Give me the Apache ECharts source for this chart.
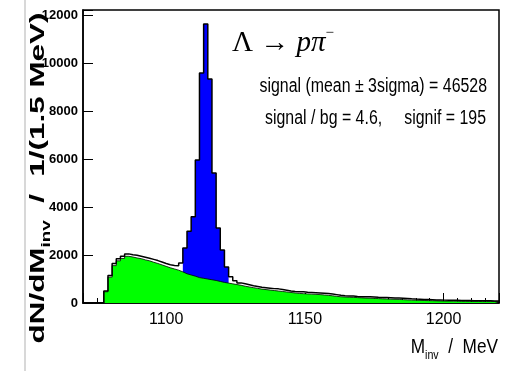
<!DOCTYPE html>
<html><head><meta charset="utf-8">
<script src="https://cdn.jsdelivr.net/npm/echarts@6/dist/echarts.min.js"></script>
<style>html,body{margin:0;padding:0;background:#fff}#c{width:513px;height:371px}</style>
</head><body><div id="c"></div>
<script>
// histogram binning (MeV)
const binLow = 1070, binWidth = 1.5;
// total invariant-mass counts per 1.5 MeV bin (100 bins, 1070-1220 MeV)
const totalCounts = [
  0, 0, 0, 0, 0, 500, 1150, 1650, 1850, 1950,
  2050, 2010, 1990, 1950, 1910, 1870, 1820, 1770, 1710, 1650,
  1600, 1570, 1550, 1670, 2300, 3000, 3600, 5970, 9600, 11650,
  9350, 5430, 3130, 2210, 1500, 1100, 930, 840, 800, 760,
  720, 690, 660, 640, 620, 600, 590, 560, 530, 500,
  480, 470, 470, 450, 440, 430, 420, 410, 400, 380,
  350, 320, 300, 290, 290, 275, 265, 260, 265, 255,
  240, 230, 230, 220, 210, 205, 200, 190, 175, 165,
  160, 150, 150, 140, 130, 125, 120, 115, 110, 110,
  105, 100, 100, 95, 95, 90, 90, 90, 85, 85
];
// background (green) counts per bin
const bgCounts = [
  0, 0, 0, 0, 0, 470, 1080, 1560, 1760, 1860,
  1950, 1920, 1880, 1850, 1800, 1760, 1700, 1650, 1590, 1530,
  1470, 1420, 1370, 1300, 1220, 1170, 1120, 1060, 1030, 1000,
  970, 940, 900, 860, 830, 800, 770, 740, 700, 670,
  640, 610, 580, 560, 540, 520, 500, 480, 460, 440,
  420, 400, 390, 380, 370, 360, 350, 335, 320, 300,
  280, 260, 250, 240, 235, 225, 215, 205, 200, 195,
  185, 175, 170, 160, 155, 150, 140, 130, 120, 115,
  110, 105, 100, 95, 90, 85, 80, 80, 75, 75,
  70, 70, 65, 65, 65, 60, 60, 60, 60, 60
];
// signal window (mean +- 3 sigma), bin indices
const signalFirstBin = 24, signalLastBin = 34;
const xTickLabels = [1100, 1150, 1200];
const yTickLabels = [0, 2000, 4000, 6000, 8000, 10000, 12000];

function histPoints(vals, first, last) {
  const pts = [];
  for (let i = first; i <= last; i++) {
    pts.push([binLow + i * binWidth, vals[i]]);
    pts.push([binLow + (i + 1) * binWidth, vals[i]]);
  }
  return pts;
}
const totalPts = histPoints(totalCounts, 0, totalCounts.length - 1);
const bgPts = histPoints(bgCounts, 0, bgCounts.length - 1);
const sigPts = histPoints(totalCounts, signalFirstBin, signalLastBin);

const sans = "'Liberation Sans', Arial, sans-serif";
const serif = "'Liberation Serif', 'Times New Roman', serif";
const chart = echarts.init(document.getElementById('c'), null, {renderer: 'canvas'});
chart.setOption({
  animation: false,
  backgroundColor: '#fff',
  grid: {left: 83, right: 14, top: 10, bottom: 68, show: true, borderColor: '#000', borderWidth: 1.5},
  xAxis: {
    type: 'value', min: 1070, max: 1220, minInterval: 50, maxInterval: 50,
    axisLine: {lineStyle: {color: '#000', width: 1.5}},
    axisTick: {inside: true, length: 10, lineStyle: {color: '#000', width: 1}},
    minorTick: {show: true, splitNumber: 10, length: 5, lineStyle: {color: '#000', width: 1}},
    splitLine: {show: false},
    axisLabel: {
      color: '#000', fontFamily: sans, fontSize: 16, margin: 9,
      formatter: v => xTickLabels.indexOf(v) >= 0 ? String(v) : ''
    }
  },
  yAxis: {
    type: 'value', min: 0, max: 12230, minInterval: 2000, maxInterval: 2000,
    axisLine: {show: true, lineStyle: {color: '#000', width: 1.5}},
    axisTick: {show: true, inside: true, length: 10, lineStyle: {color: '#000', width: 1}},
    splitLine: {show: false},
    axisLabel: {
      color: '#000', fontFamily: sans, fontSize: 13, fontWeight: 'bold', margin: 5,
      formatter: v => yTickLabels.indexOf(v) >= 0 ? String(v) : ''
    }
  },
  series: [
    {type: 'line', data: sigPts, symbol: 'none', z: 2, silent: true,
     lineStyle: {width: 0}, areaStyle: {color: '#0000ff', opacity: 1}},
    {type: 'line', data: bgPts, symbol: 'none', z: 3, silent: true,
     lineStyle: {color: '#000', width: 0.8}, areaStyle: {color: '#00ff00', opacity: 1}},
    {type: 'line', data: totalPts, symbol: 'none', z: 4, silent: true,
     lineStyle: {color: '#000', width: 1.5}}
  ],
  graphic: [
    {type: 'line', shape: {x1: 25, y1: 0, x2: 25, y2: 371}, style: {stroke: '#d8d8d8', lineWidth: 2}},
    {type: 'text', x: 38, y: 178, rotation: Math.PI / 2, scaleX: 1.57,
     style: {
       text: '{a|dN/dM}{s|inv}{a|  /  1/(1.5 MeV)}',
       align: 'center', verticalAlign: 'middle',
       rich: {
         a: {fontFamily: sans, fontWeight: 'bold', fontSize: 20, lineHeight: 30, fill: '#000'},
         s: {fontFamily: sans, fontWeight: 'bold', fontSize: 12, lineHeight: 13, verticalAlign: 'bottom', fill: '#000'}
       }
     }},
    {type: 'text', x: 498, y: 347, scaleX: 0.82,
     style: {
       text: '{a|M}{s|inv}{a|  /  MeV}',
       align: 'right', verticalAlign: 'middle',
       rich: {
         a: {fontFamily: sans, fontSize: 21, lineHeight: 30, fill: '#000'},
         s: {fontFamily: sans, fontSize: 13, lineHeight: 13, verticalAlign: 'bottom', fill: '#000'}
       }
     }},
    {type: 'text', x: 232, y: 43,
     style: {
       text: '{r|Λ → }{i|pπ}{p|−}',
       align: 'left', verticalAlign: 'middle',
       rich: {
         r: {fontFamily: serif, fontSize: 29, lineHeight: 34, fill: '#000'},
         i: {fontFamily: serif, fontStyle: 'italic', fontSize: 29, lineHeight: 34, fill: '#000'},
         p: {fontFamily: serif, fontSize: 15, lineHeight: 15, verticalAlign: 'top', fill: '#000'}
       }
     }},
    {type: 'text', x: 487, y: 86, scaleX: 0.795,
     style: {text: 'signal (mean ± 3sigma) = 46528', align: 'right', verticalAlign: 'middle',
       fontFamily: sans, fontSize: 20, fill: '#000'}},
    {type: 'text', x: 486, y: 118, scaleX: 0.795,
     style: {text: 'signal / bg = 4.6,     signif = 195', align: 'right', verticalAlign: 'middle',
       fontFamily: sans, fontSize: 20, fill: '#000'}}
  ]
});
</script>
</body></html>
